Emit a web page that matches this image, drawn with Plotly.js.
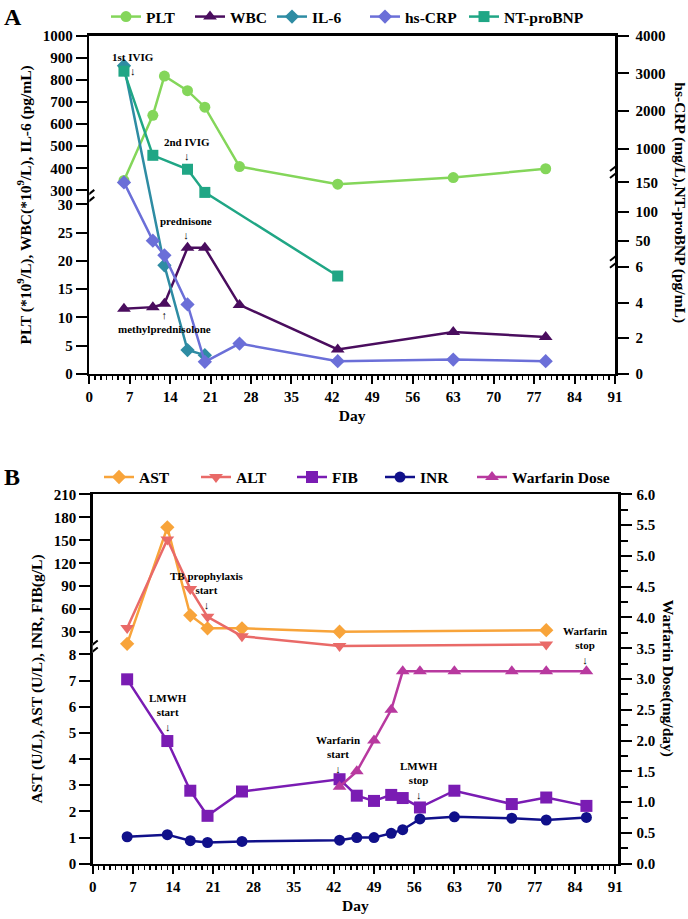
<!DOCTYPE html>
<html><head><meta charset="utf-8">
<script src="https://cdn.plot.ly/plotly-3.0.1.min.js"></script>
<style>html,body{margin:0;padding:0;background:#fff}#chart{width:688px;height:919px}</style>
</head><body><div id="chart"></div>
<script>
// ---------- Panel A data ----------
const daysPLT = [6, 11, 13, 17, 20, 26, 43, 63, 79];
const PLT = [345, 640, 818, 752, 677, 408, 328, 358, 398];
const daysWBC = [6, 11, 13, 17, 20, 26, 43, 63, 79];
const WBC = [11.5, 11.8, 12.4, 22.3, 22.3, 12.2, 4.3, 7.4, 6.5];
const daysIL6 = [6, 13, 17, 20];
const IL6 = [865, 19.2, 4.2, 3.3];
const daysCRP = [6, 11, 13, 17, 20, 26, 43, 63, 79];
const hsCRP = [150, 51, 26, 3.9, 0.67, 1.7, 0.71, 0.8, 0.71];
const daysBNP = [6, 11, 17, 20, 43];
const NTproBNP = [3060, 830, 480, 133, 5.5];

// ---------- Panel B data ----------
const daysLiver = [6, 13, 17, 20, 26, 43, 79];
const AST = [18.5, 167, 52, 35, 35, 30.5, 32.5];
const ALT = [35.5, 151, 86.5, 50, 26, 16.3, 17.9];
const daysCoag = [6, 13, 17, 20, 26, 43, 46, 49, 52, 54, 57, 63, 73, 79, 86];
const FIB = [7.05, 4.69, 2.79, 1.83, 2.76, 3.23, 2.6, 2.4, 2.63, 2.51, 2.15, 2.79, 2.28, 2.53, 2.21];
const INR = [1.03, 1.11, 0.88, 0.81, 0.85, 0.90, 1.0, 1.0, 1.16, 1.30, 1.71, 1.79, 1.74, 1.67, 1.77];
const daysWarf = [43, 46, 49, 52, 54, 57, 63, 73, 79, 86];
const warfarinDose = [1.25, 1.5, 2.0, 2.5, 3.125, 3.125, 3.125, 3.125, 3.125, 3.125];

// ---------- tick labels ----------
const ticksA_left = [0, 5, 10, 15, 20, 25, 30, 300, 400, 500, 600, 700, 800, 900, 1000];
const ticksA_right = [0, 2, 4, 6, 50, 100, 150, 1000, 2000, 3000, 4000];
const ticksB_left = [0, 1, 2, 3, 4, 5, 6, 7, 8, 30, 60, 90, 120, 150, 180, 210];

// ---------- broken-axis scales (value -> axis position) ----------
function brokenScale(knots) {
  return function (v) {
    for (let i = 1; i < knots.length; i++) {
      const a = knots[i - 1], b = knots[i];
      if (v <= b[0] || i === knots.length - 1) return a[1] + (v - a[0]) * (b[1] - a[1]) / (b[0] - a[0]);
    }
  };
}
const scaleAL = brokenScale([[0, 0], [30, 170], [300, 184], [1000, 339]]);
const scaleAR = brokenScale([[0, 0], [6, 107], [50, 133], [150, 192], [1000, 226], [4000, 339]]);
const scaleBL = brokenScale([[0, 0], [8, 209.6], [30, 232], [210, 370]]);

const FONT = '"Liberation Serif", "Times New Roman", serif';
const W = 688, H = 919;

function tr(name, x, y, yaxis, xaxis, color, symbol, size, legend) {
  return {
    type: 'scatter', mode: 'lines+markers', name: name, x: x, y: y,
    xaxis: xaxis, yaxis: yaxis, legend: legend,
    line: {color: color, width: 2.5},
    marker: {color: color, symbol: symbol, size: size, line: {width: 0}},
    cliponaxis: false, hoverinfo: 'x+name'
  };
}

const data = [
  tr('PLT', daysPLT, PLT.map(scaleAL), 'y', 'x', '#84D65A', 'circle', 11, 'legend'),
  tr('WBC', daysWBC, WBC.map(scaleAL), 'y', 'x', '#4A0D5E', 'triangle-up', 12, 'legend2'),
  tr('IL-6', daysIL6, IL6.map(scaleAL), 'y', 'x', '#2E8CA3', 'diamond', 11, 'legend3'),
  tr('hs-CRP', daysCRP, hsCRP.map(scaleAR), 'y2', 'x', '#6B6FD8', 'diamond', 11, 'legend4'),
  tr('NT-proBNP', daysBNP, NTproBNP.map(scaleAR), 'y2', 'x', '#20A685', 'square', 11, 'legend5'),
  tr('AST', daysLiver, AST.map(scaleBL), 'y3', 'x2', '#F8A43A', 'diamond', 11, 'legend6'),
  tr('ALT', daysLiver, ALT.map(scaleBL), 'y3', 'x2', '#E96A68', 'triangle-down', 12, 'legend7'),
  tr('FIB', daysCoag, FIB.map(scaleBL), 'y3', 'x2', '#7A1CB3', 'square', 12, 'legend8'),
  tr('INR', daysCoag, INR.map(scaleBL), 'y3', 'x2', '#10108A', 'circle', 11, 'legend9'),
  tr('Warfarin Dose', daysWarf, warfarinDose, 'y4', 'x2', '#B8399F', 'triangle-up', 12, 'legend10')
];

const axBase = {
  showline: true, linewidth: 2.5, linecolor: '#000', ticks: 'outside', ticklen: 11, tickwidth: 2,
  tickcolor: '#000', showgrid: false, zeroline: false, fixedrange: true,
  tickfont: {family: FONT, size: 15, color: '#000', weight: 700}
};
const xBase = Object.assign({}, axBase, {
  ticklen: 8, tick0: 0, dtick: 7, mirror: true,
  minor: {dtick: 1, ticks: 'outside', ticklen: 4, tickwidth: 1.5, tickcolor: '#000', showgrid: false}
});
const titleFont = {family: FONT, size: 15.5, color: '#000', weight: 700};

const layout = {
  width: W, height: H, margin: {l: 0, r: 0, t: 0, b: 0},
  paper_bgcolor: '#fff', plot_bgcolor: 'rgba(0,0,0,0)',
  font: {family: FONT, color: '#000'},
  showlegend: true,
  xaxis: Object.assign({}, xBase, {
    domain: [89.3 / W, 615 / W], range: [0, 91], anchor: 'y',
    title: {text: 'Day', font: titleFont, standoff: 6}
  }),
  yaxis: Object.assign({}, axBase, {
    domain: [1 - 372 / H, 1 - 33 / H], range: [0, 339], anchor: 'x',
    tickmode: 'array', tickvals: ticksA_left.map(scaleAL), ticktext: ticksA_left.map(String),
    title: {text: 'PLT (*10<sup>9</sup>/L), WBC(*10<sup>9</sup>/L), IL-6 (pg/mL)', font: titleFont, standoff: 8}
  }),
  yaxis2: Object.assign({}, axBase, {
    overlaying: 'y', side: 'right', range: [0, 339], anchor: 'x', ticklabelstandoff: 4,
    tickmode: 'array', tickvals: ticksA_right.map(scaleAR), ticktext: ticksA_right.map(String)
  }),
  xaxis2: Object.assign({}, xBase, {
    domain: [92.7 / W, 618 / W], range: [0, 91.5], anchor: 'y3',
    title: {text: 'Day', font: titleFont, standoff: 6}
  }),
  yaxis3: Object.assign({}, axBase, {
    domain: [1 - 863.5 / H, 1 - 493 / H], range: [0, 370], anchor: 'x2',
    tickmode: 'array', tickvals: ticksB_left.map(scaleBL), ticktext: ticksB_left.map(String),
    title: {text: 'AST (U/L), AST (U/L), INR, FIB(g/L)', font: titleFont, standoff: 8}
  }),
  yaxis4: Object.assign({}, axBase, {
    overlaying: 'y3', side: 'right', range: [0, 6], anchor: 'x2', ticklabelstandoff: 2,
    tick0: 0, dtick: 0.5, tickformat: '.1f',
    minor: {dtick: 0.25, ticks: 'outside', ticklen: 7, tickwidth: 2, tickcolor: '#000', showgrid: false}
  }),
  shapes: [],
  annotations: []
};

// one legend per entry so each entry sits where the reference puts it
const legendTextStartA = [147, 231, 313, 406, 505];
const legendTextStartB = [140, 237, 333, 421, 513];
const legendIds = ['legend', 'legend2', 'legend3', 'legend4', 'legend5', 'legend6', 'legend7', 'legend8', 'legend9', 'legend10'];
legendIds.forEach(function (id, i) {
  const isA = i < 5;
  const tx = isA ? legendTextStartA[i] : legendTextStartB[i - 5];
  layout[id] = {
    orientation: 'h', x: (tx - 41) / W, xanchor: 'left', y: 1 - (isA ? 14 : 476) / H, yanchor: 'middle',
    font: {family: FONT, size: 15.5, color: '#000', weight: 700}, bgcolor: 'rgba(0,0,0,0)'
  };
});

// axis break marks
function addBreak(xref, yref, xval, yval) {
  const s = layout.shapes;
  s.push({type: 'line', layer: 'above', xref: xref, yref: yref, xsizemode: 'pixel', ysizemode: 'pixel',
    xanchor: xval, yanchor: yval, x0: 0, x1: 0, y0: -5, y1: 5, line: {color: '#fff', width: 6}});
  [-3.5, 3.5].forEach(function (off) {
    s.push({type: 'line', layer: 'above', xref: xref, yref: yref, xsizemode: 'pixel', ysizemode: 'pixel',
      xanchor: xval, yanchor: yval, x0: -5, x1: 5, y0: off - 4, y1: off + 4, line: {color: '#000', width: 2}});
  });
}
addBreak('x', 'y', 0, 177);
addBreak('x', 'y', 91, 204);
addBreak('x', 'y', 91, 114);
addBreak('x2', 'y3', 0, 216);

// text annotations
const annFont = {family: FONT, size: 11, color: '#000', weight: 700};
function note(text, xref, yref, x, y) {
  layout.annotations.push({text: text, xref: xref, yref: yref, x: x, y: y, showarrow: false,
    font: annFont, align: 'center', xanchor: 'center', yanchor: 'middle'});
}
note('1st IVIG<br>↓', 'x', 'y', 7.5, 310.5);
note('2nd IVIG<br>↓', 'x', 'y', 16.9, 226);
note('prednisone<br>↓', 'x', 'y', 16.8, 146);
note('↑<br>methylprednisolone', 'x', 'y', 13.1, 51.8);
note('TB prophylaxis<br>start<br>↓', 'x2', 'y3', 19.9, 274);
note('LMWH<br>start<br>↓', 'x2', 'y3', 13.1, 151);
note('Warfarin<br>start<br>↓', 'x2', 'y3', 42.8, 109);
note('LMWH<br>stop<br>↓', 'x2', 'y3', 56.8, 83);
note('Warfarin<br>stop<br>↓', 'x2', 'y3', 85.8, 219);

// right-side titles (read top-to-bottom) and panel letters
layout.annotations.push({text: 'hs-CRP (mg/L),NT-proBNP (pg/mL)', xref: 'paper', yref: 'paper',
  x: 680 / W, y: 1 - 200 / H, textangle: 90, showarrow: false, font: titleFont, xanchor: 'center', yanchor: 'middle'});
layout.annotations.push({text: 'Warfarin Dose(mg/day)', xref: 'paper', yref: 'paper',
  x: 668 / W, y: 1 - 677 / H, textangle: 90, showarrow: false, font: titleFont, xanchor: 'center', yanchor: 'middle'});
layout.annotations.push({text: 'A', xref: 'paper', yref: 'paper', x: 13 / W, y: 1 - 14 / H, showarrow: false,
  font: {family: FONT, size: 24, color: '#000', weight: 700}, xanchor: 'center', yanchor: 'middle'});
layout.annotations.push({text: 'B', xref: 'paper', yref: 'paper', x: 12 / W, y: 1 - 476 / H, showarrow: false,
  font: {family: FONT, size: 24, color: '#000', weight: 700}, xanchor: 'center', yanchor: 'middle'});

Plotly.newPlot('chart', data, layout, {staticPlot: true, displayModeBar: false});
</script>
</body></html>
